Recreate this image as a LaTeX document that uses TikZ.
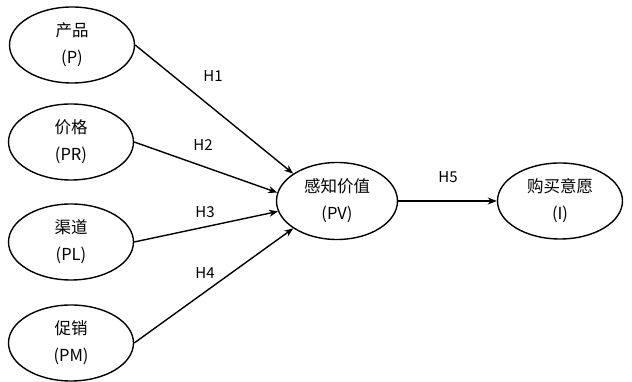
\documentclass[tikz,border=0pt]{standalone}
\usepackage{fontspec}
\setmainfont{Noto Sans CJK SC}
\usetikzlibrary{shapes.geometric,arrows.meta}
\begin{document}
\begin{tikzpicture}[x=1pt, y=1pt, line width=1.4pt, >={Stealth[length=9pt,width=7pt]},
  var/.style={draw, ellipse, minimum width=125pt, minimum height=76pt, inner sep=0pt, align=center, font=\fontsize{16.5}{27}\selectfont},
  hyp/.style={font=\fontsize{15}{17}\selectfont}]
  \useasboundingbox (0,0) rectangle (632,382);
  % variables
  \node[var] (P) at (72,337) {产品\\(P)};
  \node[var] (PR) at (71,240) {价格\\(PR)};
  \node[var] (PL) at (71,140) {渠道\\(PL)};
  \node[var] (PM) at (71,39) {促销\\(PM)};
  \node[var, minimum width=121pt, minimum height=77pt] (PV) at (337,181) {感知价值\\(PV)};
  \node[var] (I) at (560,181) {购买意愿\\(I)};
  % paths
  \draw[->] (P.east) -- (PV.148);
  \draw[->] (PR.east) -- (PV.172);
  \draw[->] (PL.east) -- (PV.190);
  \draw[->] (PM.east) -- (PV.212);
  \draw[->] (PV) -- (I);
  % hypotheses
  \node[hyp] (h1) at (213,306) {H1};
  \node[hyp] (h2) at (203,237) {H2};
  \node[hyp] (h3) at (205,170) {H3};
  \node[hyp] (h4) at (205,109) {H4};
  \node[hyp] (h5) at (448,205) {H5};
\end{tikzpicture}
\end{document}
